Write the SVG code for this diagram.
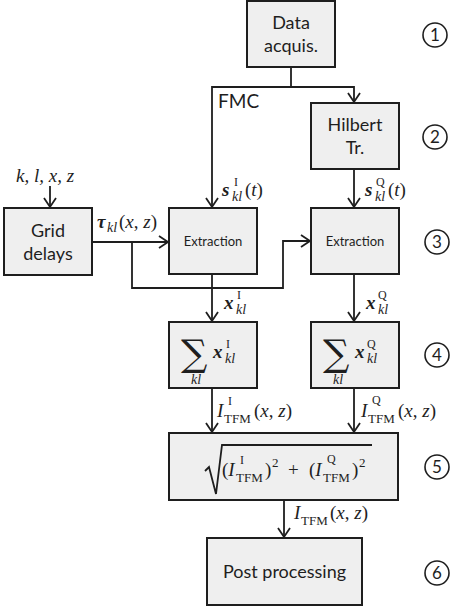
<svg xmlns="http://www.w3.org/2000/svg" width="474" height="609" viewBox="0 0 474 609">
<style>
.box{fill:#efefef;stroke:#1e1e1e;stroke-width:2}
.ln{fill:none;stroke:#1e1e1e;stroke-width:1.8}
.sans{font-family:Lato,"Open Sans","Liberation Sans",sans-serif;fill:#1e1e1e}
.m{font-family:"Liberation Serif","DejaVu Serif",serif;fill:#1e1e1e}
.mi{font-family:"Liberation Serif","DejaVu Serif",serif;font-style:italic;fill:#1e1e1e}
.mb{font-family:"Liberation Serif","DejaVu Serif",serif;font-style:italic;font-weight:bold;fill:#1e1e1e}
.sup{font-family:"Liberation Serif","DejaVu Serif",serif;font-size:12px;fill:#1e1e1e}
.sig{font-family:"DejaVu Serif",serif;fill:#1e1e1e}
.circ{fill:none;stroke:#1e1e1e;stroke-width:1.6}
</style>
<defs>
<marker id="ah" markerUnits="userSpaceOnUse" markerWidth="12" markerHeight="14" refX="10" refY="7" orient="auto">
<path d="M1,1 L10,7 L1,13" fill="none" stroke="#1e1e1e" stroke-width="1.8"/>
</marker>
</defs>
<rect width="474" height="609" fill="#ffffff"/>

<g id="connectors">
<path class="ln" d="M291,67 V87"/>
<path class="ln" d="M291,87 H212 V207" marker-end="url(#ah)"/>
<path class="ln" d="M291,87 H354 V102" marker-end="url(#ah)"/>
<path class="ln" d="M354,169 V207" marker-end="url(#ah)"/>
<path class="ln" d="M50,186 V207" marker-end="url(#ah)"/>
<path class="ln" d="M92,242 H168" marker-end="url(#ah)"/>
<path class="ln" d="M132,242 V288 H283 V241 H310" marker-end="url(#ah)"/>
<path class="ln" d="M212,274 V321" marker-end="url(#ah)"/>
<path class="ln" d="M354,274 V321" marker-end="url(#ah)"/>
<path class="ln" d="M212,388 V432" marker-end="url(#ah)"/>
<path class="ln" d="M354,388 V432" marker-end="url(#ah)"/>
<path class="ln" d="M284,500 V537" marker-end="url(#ah)"/>
</g>

<g id="data-acq">
<rect class="box" x="247" y="1" width="88" height="66"/>
<text class="sans" font-size="18" text-anchor="middle" x="291" y="29">Data</text>
<text class="sans" font-size="18" text-anchor="middle" x="291" y="52">acquis.</text>
</g>
<g id="hilbert">
<rect class="box" x="311" y="103" width="88" height="66"/>
<text class="sans" font-size="18" text-anchor="middle" x="355" y="131">Hilbert</text>
<text class="sans" font-size="18" text-anchor="middle" x="355" y="154">Tr.</text>
</g>
<g id="grid-delays">
<rect class="box" x="4" y="208" width="88" height="67"/>
<text class="sans" font-size="18" text-anchor="middle" x="48" y="237">Grid</text>
<text class="sans" font-size="18" text-anchor="middle" x="48" y="260">delays</text>
</g>
<g id="extraction-i">
<rect class="box" x="169" y="208" width="88" height="66"/>
<text class="sans" font-size="13" text-anchor="middle" x="213" y="246">Extraction</text>
</g>
<g id="extraction-q">
<rect class="box" x="311" y="208" width="88" height="66"/>
<text class="sans" font-size="13" text-anchor="middle" x="355" y="246">Extraction</text>
</g>
<g id="sum-i">
<rect class="box" x="169" y="322" width="88" height="66"/>
<text class="sig" font-size="37" x="181" y="366">∑</text>
<text class="mi" font-size="14" x="191" y="384">kl</text>
<text class="mb" font-size="19" x="213" y="358">x</text>
<text class="sup" x="226" y="348">I</text>
<text class="mi" font-size="14" x="225" y="363">kl</text>
</g>
<g id="sum-q">
<rect class="box" x="311" y="322" width="88" height="66"/>
<text class="sig" font-size="37" x="323" y="366">∑</text>
<text class="mi" font-size="14" x="333" y="384">kl</text>
<text class="mb" font-size="19" x="355" y="358">x</text>
<text class="sup" x="367" y="348">Q</text>
<text class="mi" font-size="14" x="367" y="363">kl</text>
</g>
<g id="magnitude">
<rect class="box" x="169" y="433" width="229" height="67"/>
<path class="ln" d="M205,471 L209,467 L216,494 L222,445 H372" stroke-width="1.5"/>
<text class="m" font-size="19" x="222" y="476">(<tspan class="mi">I</tspan></text>
<text class="m" font-size="13" x="236" y="482">TFM</text>
<text class="sup" x="240" y="464">I</text>
<text class="m" font-size="19" x="265" y="476">)</text>
<text class="m" font-size="13" x="272" y="467">2</text>
<text class="m" font-size="19" x="288" y="476">+</text>
<text class="m" font-size="19" x="309" y="476">(<tspan class="mi">I</tspan></text>
<text class="m" font-size="13" x="323" y="482">TFM</text>
<text class="sup" x="327" y="463">Q</text>
<text class="m" font-size="19" x="352" y="476">)</text>
<text class="m" font-size="13" x="359" y="467">2</text>
</g>
<g id="post-processing">
<rect class="box" x="207" y="538" width="155" height="67"/>
<text class="sans" font-size="18" text-anchor="middle" x="284.5" y="578">Post processing</text>
</g>

<g id="labels">
<text class="sans" font-size="19" x="218" y="108">FMC</text>
<text class="mi" font-size="19" x="16" y="182">k, l, x, z</text>
<text class="mb" font-size="19" x="222" y="196">s</text>
<text class="sup" x="234" y="186">I</text>
<text class="mi" font-size="14" x="232" y="201">kl</text>
<text class="m" font-size="19" x="245" y="196">(<tspan class="mi">t</tspan>)</text>
<text class="mb" font-size="19" x="365" y="196">s</text>
<text class="sup" x="376" y="186">Q</text>
<text class="mi" font-size="14" x="375" y="201">kl</text>
<text class="m" font-size="19" x="388" y="196">(<tspan class="mi">t</tspan>)</text>
<text class="mb" font-size="19" x="97" y="228">τ</text>
<text class="mi" font-size="14" x="107" y="232">kl</text>
<text class="m" font-size="19" x="119" y="228">(<tspan class="mi">x</tspan>, <tspan class="mi">z</tspan>)</text>
<text class="mb" font-size="19" x="224" y="309">x</text>
<text class="sup" x="237" y="299">I</text>
<text class="mi" font-size="14" x="236" y="314">kl</text>
<text class="mb" font-size="19" x="366" y="309">x</text>
<text class="sup" x="378" y="299">Q</text>
<text class="mi" font-size="14" x="378" y="314">kl</text>
<text class="mi" font-size="19" x="217" y="417">I</text>
<text class="m" font-size="13" x="224" y="423">TFM</text>
<text class="sup" x="228" y="405">I</text>
<text class="m" font-size="19" x="254" y="417">(<tspan class="mi">x</tspan>, <tspan class="mi">z</tspan>)</text>
<text class="mi" font-size="19" x="361" y="417">I</text>
<text class="m" font-size="13" x="368" y="423">TFM</text>
<text class="sup" x="372" y="404">Q</text>
<text class="m" font-size="19" x="398" y="417">(<tspan class="mi">x</tspan>, <tspan class="mi">z</tspan>)</text>
<text class="mi" font-size="19" x="294" y="519">I</text>
<text class="m" font-size="13" x="301" y="525">TFM</text>
<text class="m" font-size="19" x="330" y="519">(<tspan class="mi">x</tspan>, <tspan class="mi">z</tspan>)</text>
</g>

<g id="steps">
<circle class="circ" cx="435" cy="35" r="12"/><text class="sans" font-size="17" text-anchor="middle" x="435" y="41">1</text>
<circle class="circ" cx="435" cy="137" r="12"/><text class="sans" font-size="17" text-anchor="middle" x="435" y="143">2</text>
<circle class="circ" cx="437" cy="242" r="12"/><text class="sans" font-size="17" text-anchor="middle" x="437" y="248">3</text>
<circle class="circ" cx="437" cy="355" r="12"/><text class="sans" font-size="17" text-anchor="middle" x="437" y="361">4</text>
<circle class="circ" cx="437" cy="467" r="12"/><text class="sans" font-size="17" text-anchor="middle" x="437" y="473">5</text>
<circle class="circ" cx="437" cy="573" r="12"/><text class="sans" font-size="17" text-anchor="middle" x="437" y="579">6</text>
</g>
</svg>
